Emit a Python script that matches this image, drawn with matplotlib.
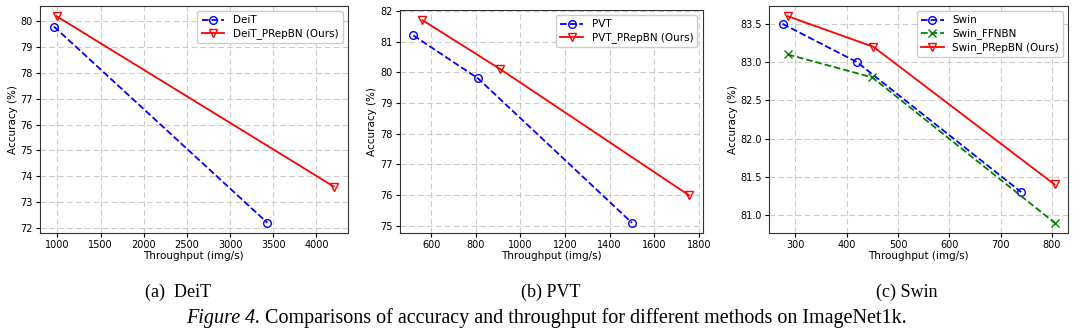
import matplotlib
matplotlib.use("Agg")
import matplotlib.pyplot as plt

# DeiT
deit_x = [960, 3430]
deit_y = [79.8, 72.2]
deit_ours_x = [990, 4200]
deit_ours_y = [80.2, 73.6]

# PVT
pvt_x = [520, 810, 1500]
pvt_y = [81.2, 79.8, 75.1]
pvt_ours_x = [560, 910, 1755]
pvt_ours_y = [81.7, 80.1, 76.0]

# Swin
swin_x = [275, 420, 740]
swin_y = [83.5, 83.0, 81.3]
swin_ffn_x = [285, 450, 805]
swin_ffn_y = [83.1, 82.8, 80.9]
swin_ours_x = [285, 452, 805]
swin_ours_y = [83.6, 83.2, 81.4]

captions = ["(a)  DeiT", "(b) PVT", "(c) Swin"]

fig = plt.figure(figsize=(10.8, 3.36), dpi=100)

ax1 = fig.add_axes([0.037, 0.3065, 0.285, 0.676])
ax2 = fig.add_axes([0.370, 0.3065, 0.2806, 0.664])
ax3 = fig.add_axes([0.712, 0.3065, 0.277, 0.676])

lw = 1.3
ms = 5.5

def style(ax):
    ax.grid(True, color='#cccccc', linestyle=(0, (5, 3)), linewidth=0.8)
    ax.set_axisbelow(True)
    ax.set_xlabel("Throughput (img/s)", fontsize=7.5, labelpad=1)
    ax.set_ylabel("Accuracy (%)", fontsize=7.5, labelpad=2)
    ax.tick_params(labelsize=7, length=3, pad=2)
    for s in ax.spines.values():
        s.set_color('#333333')
        s.set_linewidth(0.8)
    ax.legend(loc='upper right', fontsize=7.5, framealpha=1, borderpad=0.4,
              handlelength=2.2, labelspacing=0.3)

# PLOT 1: DeiT
ax1.plot(deit_x, deit_y, 'b--', marker='o', mfc='none', ms=ms, lw=lw, label='DeiT')
ax1.plot(deit_ours_x, deit_ours_y, 'r-', marker='v', mfc='none', ms=ms, lw=lw,
         label='DeiT_PRepBN (Ours)')
ax1.set_xticks([1000, 1500, 2000, 2500, 3000, 3500, 4000])
style(ax1)

# PLOT 2: PVT
ax2.plot(pvt_x, pvt_y, 'b--', marker='o', mfc='none', ms=ms, lw=lw, label='PVT')
ax2.plot(pvt_ours_x, pvt_ours_y, 'r-', marker='v', mfc='none', ms=ms, lw=lw,
         label='PVT_PRepBN (Ours)')
style(ax2)

# PLOT 3: Swin
ax3.plot(swin_x, swin_y, 'b--', marker='o', mfc='none', ms=ms, lw=lw, label='Swin')
ax3.plot(swin_ffn_x, swin_ffn_y, 'g--', marker='x', ms=ms, lw=lw, label='Swin_FFNBN')
ax3.plot(swin_ours_x, swin_ours_y, 'r-', marker='v', mfc='none', ms=ms, lw=lw,
         label='Swin_PRepBN (Ours)')
ax3.set_yticks([81.0, 81.5, 82.0, 82.5, 83.0, 83.5])
style(ax3)

# Sub-captions and figure caption
serif = ['Liberation Serif', 'DejaVu Serif']
for cx, txt in zip([178 / 1080, 551 / 1080, 907 / 1080], captions):
    fig.text(cx, 1 - 292 / 336, txt, ha='center', va='center', fontsize=13, family=serif)

cap_y = 1 - 318 / 336
cap = fig.text(186 / 1080, cap_y, "Figure 4.", ha='left', va='center', fontsize=14.5,
               family=serif, style='italic')
fig.canvas.draw()
bb = cap.get_window_extent()
fig.text((bb.x1 + 5) / 1080, cap_y,
         "Comparisons of accuracy and throughput for different methods on ImageNet1k.",
         ha='left', va='center', fontsize=14.5, family=serif)

fig.savefig("out.png", dpi=100)
